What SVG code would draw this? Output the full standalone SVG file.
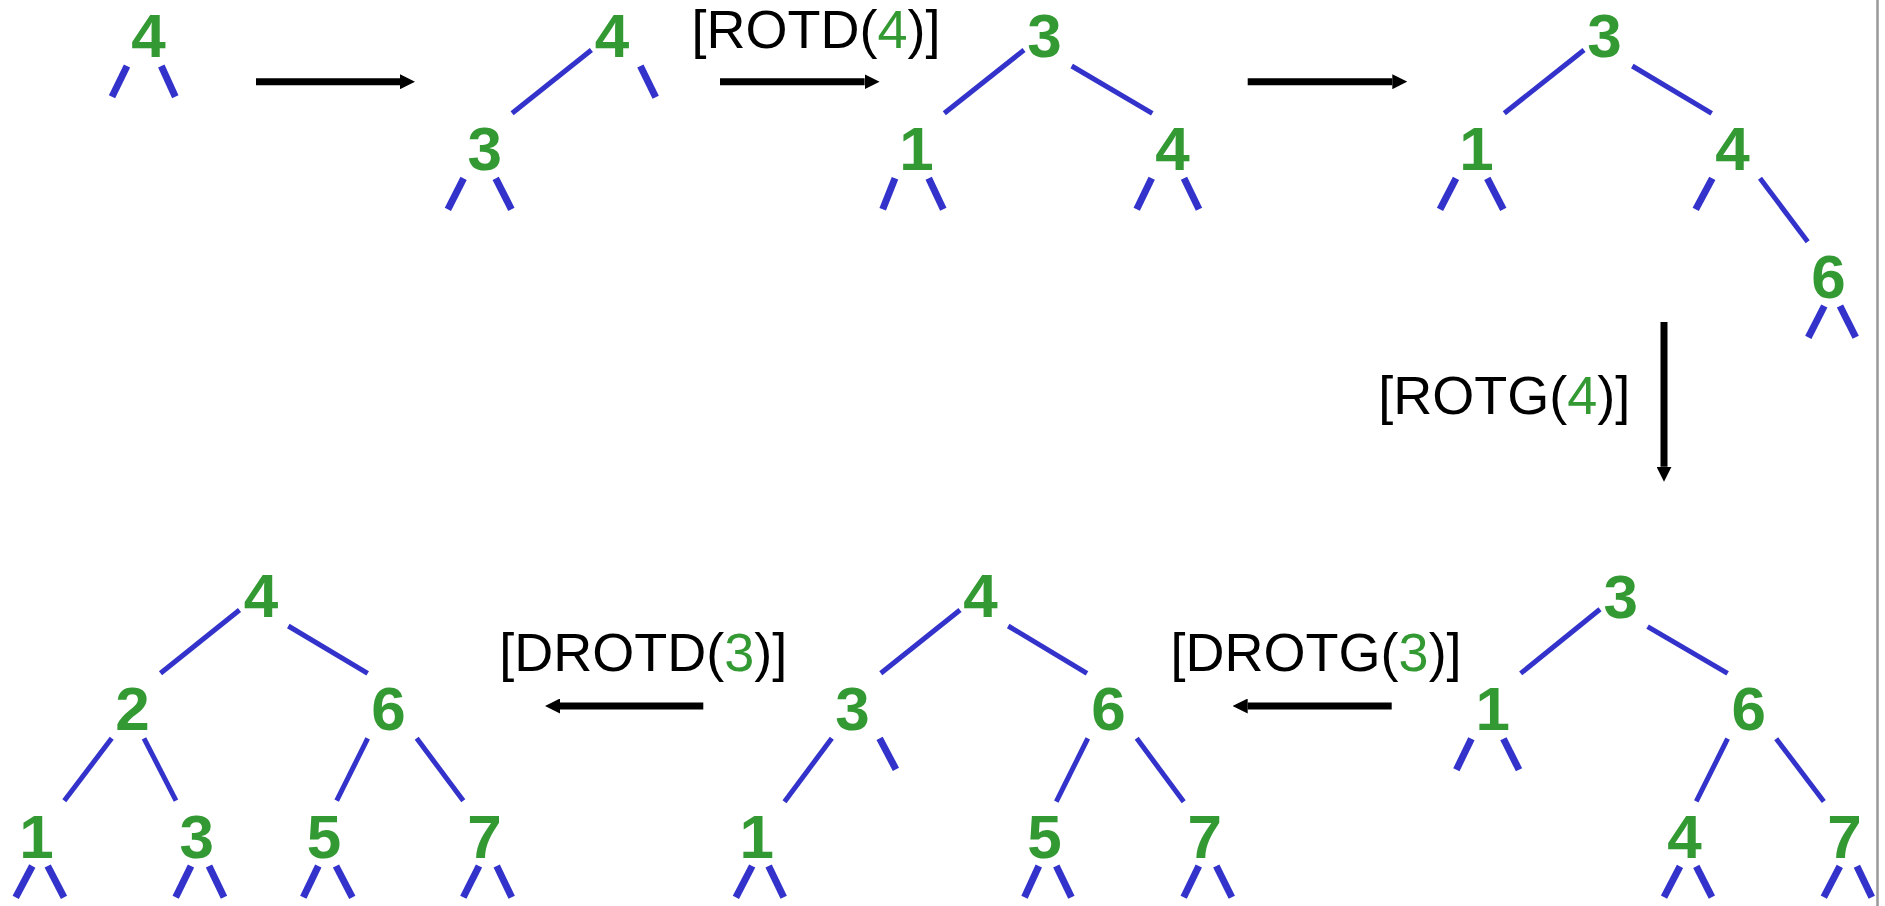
<svg xmlns="http://www.w3.org/2000/svg" width="1885" height="906" viewBox="0 0 1885 906">
<style>
.k{font-family:"Liberation Sans",Arial,sans-serif;font-weight:bold;font-size:62px;fill:#339933;text-anchor:middle}
.lb{font-family:"Liberation Sans",Arial,sans-serif;font-size:54px;fill:#000}
.g{fill:#339933}
.s{stroke:#3333cc;stroke-width:7;fill:none}
.e{stroke:#3333cc;stroke-width:5;fill:none}
.a{stroke:#000;stroke-width:7;fill:none}
</style>
<defs>
<marker id="ah" viewBox="0 0 15 15" refX="0" refY="7.5" markerWidth="15" markerHeight="15" markerUnits="userSpaceOnUse" orient="auto"><path d="M0,0 L15,7.5 L0,15 z" fill="#000"/></marker>
</defs>
<rect width="1885" height="906" fill="#fff"/>
<line x1="1877.5" y1="0" x2="1877.5" y2="906" stroke="#999" stroke-width="2.5"/>

<g id="connectors">
<g id="edges">
<line class="e" x1="591.4" y1="50" x2="512.1" y2="113.3"/>
<line class="e" x1="1024" y1="50" x2="944.3" y2="113.3"/>
<line class="e" x1="1071.7" y1="66" x2="1152.3" y2="113.3"/>
<line class="e" x1="1584" y1="50" x2="1504.3" y2="113.3"/>
<line class="e" x1="1632.3" y1="66" x2="1711.7" y2="113.3"/>
<line class="e" x1="1760" y1="178.3" x2="1807.7" y2="241.7"/>
<line class="e" x1="1600" y1="609.2" x2="1520.7" y2="673.4"/>
<line class="e" x1="1647.6" y1="626.6" x2="1727.6" y2="673.4"/>
<line class="e" x1="1727.6" y1="738.7" x2="1696.3" y2="801.4"/>
<line class="e" x1="1776.2" y1="738.7" x2="1823.8" y2="801.4"/>
<line class="e" x1="960" y1="610" x2="880.8" y2="673.3"/>
<line class="e" x1="1008.2" y1="626" x2="1087" y2="673.3"/>
<line class="e" x1="831.8" y1="738.3" x2="784.5" y2="801.7"/>
<line class="e" x1="1087.8" y1="738.3" x2="1056.3" y2="801.7"/>
<line class="e" x1="1136.7" y1="738.3" x2="1183.7" y2="801.7"/>
<line class="e" x1="239.5" y1="610" x2="160.5" y2="673.3"/>
<line class="e" x1="288.3" y1="626" x2="367.7" y2="673.3"/>
<line class="e" x1="111.7" y1="738.3" x2="64.3" y2="800.7"/>
<line class="e" x1="144" y1="738.3" x2="176" y2="800.7"/>
<line class="e" x1="367.7" y1="738.3" x2="336.7" y2="800.7"/>
<line class="e" x1="416.7" y1="738.3" x2="463.3" y2="800.7"/>
</g>
<g id="arrows">
<line class="a" x1="256" y1="81.7" x2="400" y2="81.7" marker-end="url(#ah)"/>
<line class="a" x1="720" y1="81.7" x2="864.6" y2="81.7" marker-end="url(#ah)"/>
<line class="a" x1="1247.7" y1="81.7" x2="1392.3" y2="81.7" marker-end="url(#ah)"/>
<line class="a" x1="1664" y1="322" x2="1664" y2="466.7" marker-end="url(#ah)"/>
<line class="a" x1="1391.7" y1="706" x2="1247.7" y2="706" marker-end="url(#ah)"/>
<line class="a" x1="703.3" y1="706" x2="560" y2="706" marker-end="url(#ah)"/>
</g>
</g>

<g id="labels">
<text id="lbl-rotd4" class="lb" x="691.6" y="47.5">[ROTD(<tspan class="g">4</tspan>)]</text>
<text id="lbl-rotg4" class="lb" x="1378.3" y="414">[ROTG(<tspan class="g">4</tspan>)]</text>
<text id="lbl-drotd3" class="lb" x="499.3" y="671">[DROTD(<tspan class="g">3</tspan>)]</text>
<text id="lbl-drotg3" class="lb" x="1170.6" y="671">[DROTG(<tspan class="g">3</tspan>)]</text>
</g>

<!-- Tree 1 -->
<g id="t1-n4"><text class="k" x="148.4" y="57.3">4</text>
<line class="s" x1="127" y1="66" x2="112" y2="96.7"/><line class="s" x1="161.3" y1="66" x2="175.3" y2="96.7"/></g>

<!-- Tree 2 -->
<g id="t2-n4"><text class="k" x="612" y="57.3">4</text>
<line class="s" x1="640.4" y1="66" x2="655.7" y2="97.2"/></g>
<g id="t2-n3"><text class="k" x="484.8" y="170">3</text>
<line class="s" x1="463.6" y1="178.3" x2="447.9" y2="209.3"/><line class="s" x1="495.7" y1="178.3" x2="511.4" y2="209.3"/></g>

<!-- Tree 3 -->
<g id="t3-n3"><text class="k" x="1044.5" y="57.3">3</text></g>
<g id="t3-n1"><text class="k" x="916.5" y="170">1</text>
<line class="s" x1="895" y1="178.3" x2="882.7" y2="209.3"/><line class="s" x1="928.7" y1="178.3" x2="943.3" y2="209.3"/></g>
<g id="t3-n4"><text class="k" x="1172.5" y="170">4</text>
<line class="s" x1="1151.7" y1="178.3" x2="1136.7" y2="209.3"/><line class="s" x1="1184" y1="178.3" x2="1199" y2="209.3"/></g>

<!-- Tree 4 -->
<g id="t4-n3"><text class="k" x="1604.5" y="57.3">3</text></g>
<g id="t4-n1"><text class="k" x="1476.5" y="170">1</text>
<line class="s" x1="1456" y1="178.3" x2="1440" y2="209.3"/><line class="s" x1="1487.3" y1="178.3" x2="1503.3" y2="209.3"/></g>
<g id="t4-n4"><text class="k" x="1732.5" y="170">4</text>
<line class="s" x1="1712.3" y1="178.3" x2="1695.7" y2="209.3"/></g>
<g id="t4-n6"><text class="k" x="1828.4" y="298">6</text>
<line class="s" x1="1824.3" y1="306" x2="1808.3" y2="337.3"/><line class="s" x1="1840" y1="306" x2="1855.7" y2="337.3"/></g>

<!-- Tree 5 (bottom right) -->
<g id="t5-n3"><text class="k" x="1620.7" y="617.5">3</text></g>
<g id="t5-n1"><text class="k" x="1492.8" y="730">1</text>
<line class="s" x1="1471.4" y1="738.7" x2="1456.4" y2="769.7"/><line class="s" x1="1503.4" y1="738.7" x2="1519" y2="769.7"/></g>
<g id="t5-n6"><text class="k" x="1748.8" y="730">6</text></g>
<g id="t5-n4"><text class="k" x="1684.6" y="857.5">4</text>
<line class="s" x1="1680" y1="866.3" x2="1664" y2="897.2"/><line class="s" x1="1696.3" y1="866.3" x2="1711.9" y2="897.2"/></g>
<g id="t5-n7"><text class="k" x="1844.5" y="857.5">7</text>
<line class="s" x1="1839.8" y1="866.3" x2="1823.8" y2="897.2"/><line class="s" x1="1856.9" y1="866.3" x2="1871.8" y2="897.2"/></g>

<!-- Tree 6 (bottom middle) -->
<g id="t6-n4"><text class="k" x="980.6" y="617.3">4</text></g>
<g id="t6-n3"><text class="k" x="852.6" y="730">3</text>
<line class="s" x1="879.6" y1="738.3" x2="895.9" y2="769.3"/></g>
<g id="t6-n6"><text class="k" x="1108.6" y="730">6</text></g>
<g id="t6-n1"><text class="k" x="756.7" y="857.7">1</text>
<line class="s" x1="752.2" y1="866" x2="735.9" y2="897.3"/><line class="s" x1="768.6" y1="866" x2="783.7" y2="897.3"/></g>
<g id="t6-n5"><text class="k" x="1044.5" y="857.7">5</text>
<line class="s" x1="1038.8" y1="866" x2="1024.5" y2="897.3"/><line class="s" x1="1056.3" y1="866" x2="1071.4" y2="897.3"/></g>
<g id="t6-n7"><text class="k" x="1204.7" y="857.7">7</text>
<line class="s" x1="1198.8" y1="866" x2="1183.7" y2="897.3"/><line class="s" x1="1216.3" y1="866" x2="1231.8" y2="897.3"/></g>

<!-- Tree 7 (bottom left) -->
<g id="t7-n4"><text class="k" x="261" y="617.3">4</text></g>
<g id="t7-n2"><text class="k" x="132.5" y="730">2</text></g>
<g id="t7-n6"><text class="k" x="388.5" y="730">6</text></g>
<g id="t7-n1"><text class="k" x="36.5" y="857.7">1</text>
<line class="s" x1="32.3" y1="866" x2="15.7" y2="897.3"/><line class="s" x1="47.7" y1="866" x2="64" y2="897.3"/></g>
<g id="t7-n3"><text class="k" x="196.8" y="857.7">3</text>
<line class="s" x1="191" y1="866" x2="175.7" y2="897.3"/><line class="s" x1="209" y1="866" x2="224" y2="897.3"/></g>
<g id="t7-n5"><text class="k" x="324" y="857.7">5</text>
<line class="s" x1="318.3" y1="866" x2="303.3" y2="897.3"/><line class="s" x1="336" y1="866" x2="352.3" y2="897.3"/></g>
<g id="t7-n7"><text class="k" x="484.5" y="857.7">7</text>
<line class="s" x1="479" y1="866" x2="463.3" y2="897.3"/><line class="s" x1="496.7" y1="866" x2="511.7" y2="897.3"/></g>
</svg>
